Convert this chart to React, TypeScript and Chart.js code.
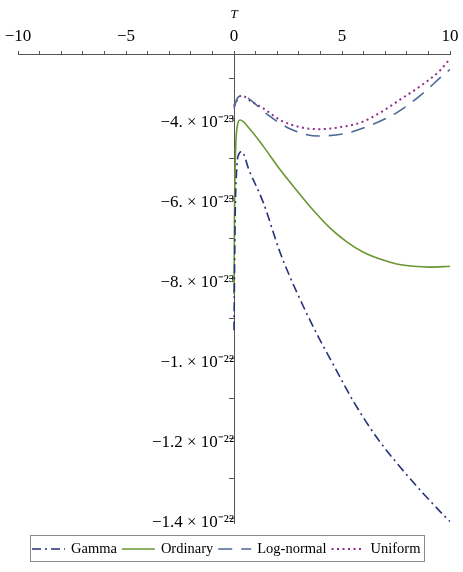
import React, { useEffect, useRef } from "react";
import { Chart, registerables } from "chart.js";

Chart.register(...registerables);

// Values are in units of 1e-23
const GAMMA_T = [0, 0.05, 0.12, 0.22, 0.36, 0.7, 1.36, 2.13, 2.9, 3.9, 4.6, 5.52, 6.61, 7.69, 8.76, 9.77, 10];
const GAMMA_V = [-9.3, -6.6, -5.3, -4.9, -4.83, -5.3, -6.11, -7.35, -8.34, -9.46, -10.16, -11.07, -11.98, -12.72, -13.38, -13.96, -14.08];

const ORDINARY_T = [0, 0.03, 0.08, 0.15, 0.28, 0.74, 1.36, 2.13, 2.9, 3.67, 4.44, 5.22, 5.99, 6.76, 7.53, 8.3, 9.07, 10];
const ORDINARY_V = [-8.4, -6.0, -4.7, -4.2, -4.04, -4.27, -4.7, -5.28, -5.8, -6.3, -6.74, -7.09, -7.35, -7.52, -7.64, -7.7, -7.72, -7.7];

const LOGNORMAL_T = [0, 0.15, 0.4, 0.9, 1.51, 2.67, 3.9, 5.22, 6.42, 7.61, 8.69, 9.72, 10];
const LOGNORMAL_V = [-3.75, -3.5, -3.43, -3.6, -3.89, -4.28, -4.44, -4.37, -4.15, -3.83, -3.4, -2.9, -2.78];

const UNIFORM_T = [0, 0.1, 0.35, 0.8, 1.36, 2.13, 3.06, 3.98, 4.9, 5.83, 6.76, 7.69, 8.61, 9.54, 10];
const UNIFORM_V = [-3.7, -3.58, -3.43, -3.58, -3.75, -4.04, -4.22, -4.27, -4.22, -4.11, -3.86, -3.53, -3.2, -2.8, -2.51];

const SERIES_LABELS = ["Gamma", "Ordinary", "Log-normal", "Uniform"];

const X_TICKS = [-10, -9, -8, -7, -6, -5, -4, -3, -2, -1, 0, 1, 2, 3, 4, 5, 6, 7, 8, 9, 10];
const X_LABELED = [-10, -5, 0, 5, 10];
const X_LABEL_TEXT = ["\u221210", "\u22125", "0", "5", "10"];

const Y_TICKS = [-3, -4, -5, -6, -7, -8, -9, -10, -11, -12, -13, -14];
const Y_LABELED = [-4, -6, -8, -10, -12, -14];
const Y_LABEL_TEXT = [
  "\u22124. \u00d7 10\u207b\u00b2\u00b3",
  "\u22126. \u00d7 10\u207b\u00b2\u00b3",
  "\u22128. \u00d7 10\u207b\u00b2\u00b3",
  "\u22121. \u00d7 10\u207b\u00b2\u00b2",
  "\u22121.2 \u00d7 10\u207b\u00b2\u00b2",
  "\u22121.4 \u00d7 10\u207b\u00b2\u00b2",
];

const SERIF = '"Liberation Serif", "Times New Roman", serif';

const toPoints = (ts: number[], vs: number[]) => ts.map((t, i) => ({ x: t, y: vs[i] }));

const boxLegend = {
  id: "boxLegend",
  afterDraw(chart: any) {
    const ctx = chart.ctx;
    const ds = chart.data.datasets;
    ctx.save();
    ctx.font = `14.5px ${SERIF}`;
    const sampleW = 33;
    const gapText = 6;
    const gapItem = 5;
    const widths = ds.map((d: any) => ctx.measureText(d.label).width);
    const total = widths.reduce((a: number, w: number) => a + sampleW + gapText + w, 0) + gapItem * (ds.length - 1);
    let x = Math.round((chart.width - total) / 2) - 5;
    const top = Math.round(chart.chartArea.bottom + 12);
    const h = 26;
    const cy = top + h / 2 + 1;
    ctx.strokeStyle = "#8a8a8a";
    ctx.lineWidth = 1;
    ctx.setLineDash([]);
    ctx.strokeRect(x - 1.5, top + 0.5, Math.round(total) + 6, h);
    ds.forEach((d: any, i: number) => {
      ctx.beginPath();
      ctx.setLineDash(d.borderDash || []);
      ctx.strokeStyle = d.borderColor;
      ctx.lineWidth = d.borderWidth;
      ctx.moveTo(x, cy);
      ctx.lineTo(x + sampleW, cy);
      ctx.stroke();
      ctx.setLineDash([]);
      x += sampleW + gapText;
      ctx.fillStyle = "#000";
      ctx.textBaseline = "middle";
      ctx.textAlign = "left";
      ctx.fillText(d.label, x, cy);
      x += widths[i] + gapItem;
    });
    ctx.restore();
  },
};

export default function App() {
  const ref = useRef<HTMLCanvasElement | null>(null);

  useEffect(() => {
    if (!ref.current) return;
    const common = { showLine: true, pointRadius: 0, fill: false, cubicInterpolationMode: "monotone" as const };
    const chart = new Chart(ref.current, {
      type: "scatter",
      data: {
        datasets: [
          {
            ...common,
            label: SERIES_LABELS[0],
            data: toPoints(GAMMA_T, GAMMA_V),
            borderColor: "#27307c",
            backgroundColor: "#27307c",
            borderWidth: 1.6,
            borderDash: [9, 4, 2, 4],
          },
          {
            ...common,
            label: SERIES_LABELS[1],
            data: toPoints(ORDINARY_T, ORDINARY_V),
            borderColor: "#6a9632",
            backgroundColor: "#6a9632",
            borderWidth: 1.6,
            borderDash: [],
          },
          {
            ...common,
            label: SERIES_LABELS[2],
            data: toPoints(LOGNORMAL_T, LOGNORMAL_V),
            borderColor: "#4c6894",
            backgroundColor: "#4c6894",
            borderWidth: 1.6,
            borderDash: [14, 9],
          },
          {
            ...common,
            label: SERIES_LABELS[3],
            data: toPoints(UNIFORM_T, UNIFORM_V),
            borderColor: "#8c2f8a",
            backgroundColor: "#8c2f8a",
            borderWidth: 2,
            borderDash: [2, 3.5],
          },
        ],
      },
      options: {
        animation: false,
        responsive: false,
        layout: { padding: { top: 6, left: 18, right: 13, bottom: 49 } },
        plugins: { legend: { display: false }, tooltip: { enabled: false } },
        scales: {
          x: {
            type: "linear",
            position: "top",
            min: -10,
            max: 10,
            afterBuildTicks: (scale: any) => {
              scale.ticks = X_TICKS.map((v) => ({ value: v }));
            },
            grid: { display: true, drawOnChartArea: false, drawTicks: true, tickLength: 3, color: "#555", lineWidth: 1 },
            border: { display: true, color: "#555", width: 1 },
            ticks: {
              autoSkip: false,
              maxRotation: 0,
              padding: 4,
              color: "#000",
              font: { family: SERIF, size: 17 },
              callback: (v: any) => {
                const i = X_LABELED.indexOf(Number(v));
                return i >= 0 ? X_LABEL_TEXT[i] : "";
              },
            },
            title: {
              display: true,
              text: "T",
              color: "#000",
              padding: { top: 1, bottom: 0 },
              font: { family: SERIF, size: 13, style: "italic" },
            },
          },
          y: {
            type: "linear",
            position: { x: 0 } as any,
            min: -14.12,
            max: -2.39,
            afterBuildTicks: (scale: any) => {
              scale.ticks = Y_TICKS.map((v) => ({ value: v }));
            },
            grid: { display: true, drawOnChartArea: false, drawTicks: true, tickLength: 5, color: "#555", lineWidth: 1 },
            border: { display: true, color: "#555", width: 1 },
            ticks: {
              autoSkip: false,
              padding: 5,
              labelOffset: 4,
              color: "#000",
              font: { family: SERIF, size: 17 },
              callback: (v: any) => {
                const i = Y_LABELED.indexOf(Number(v));
                return i >= 0 ? Y_LABEL_TEXT[i] : "";
              },
            },
          },
        },
      },
      plugins: [boxLegend],
    });
    return () => chart.destroy();
  }, []);

  return (
    <div style={{ position: "absolute", left: 0, top: 0, width: 463, height: 572, background: "#fff" }}>
      <canvas ref={ref} width={463} height={572} style={{ display: "block" }} />
    </div>
  );
}
